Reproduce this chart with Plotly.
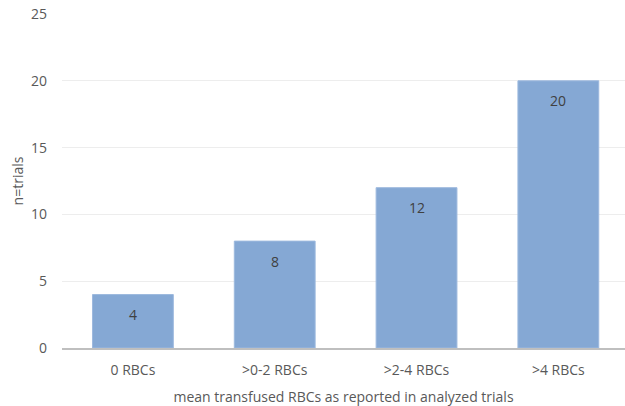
import plotly.graph_objects as go

categories = ["0 RBCs", ">0-2 RBCs", ">2-4 RBCs", ">4 RBCs"]
values = [4, 8, 12, 20]
y_ticks = [0, 5, 10, 15, 20, 25]

FONT = "Open Sans, Liberation Sans, sans-serif"

fig = go.Figure()
fig.add_trace(go.Bar(
    x=list(range(len(categories))),
    y=values,
    width=0.57,
    marker=dict(color="#85A8D4", line=dict(color="#9DB9DE", width=1)),
    hoverinfo="skip",
))

for i, v in enumerate(values):
    fig.add_annotation(
        x=i, y=v, xref="x", yref="y",
        text=str(v), showarrow=False,
        yanchor="middle", yshift=-20,
        font=dict(family=FONT, size=14, color="#404040"),
    )

fig.update_layout(
    width=625, height=406,
    margin=dict(l=62, r=0, t=14, b=58),
    paper_bgcolor="white", plot_bgcolor="white",
    showlegend=False,
    font=dict(family=FONT, size=14, color="#595959"),
    xaxis=dict(
        range=[-0.5, 3.47],
        tickmode="array",
        tickvals=list(range(len(categories))),
        ticktext=categories,
        showgrid=False,
        zeroline=False,
        showline=True, linecolor="#BFBFBF", linewidth=2,
        ticks="",
        ticklabelstandoff=8,
        tickfont=dict(size=14, color="#595959"),
        title=dict(text="mean transfused RBCs as reported in analyzed trials",
                   font=dict(size=14, color="#595959"), standoff=14),
        fixedrange=True,
    ),
    yaxis=dict(
        range=[0, 25],
        tickmode="array",
        tickvals=y_ticks,
        ticktext=[str(t) for t in y_ticks],
        showgrid=True, gridcolor="#EDEDED", gridwidth=1,
        zeroline=False,
        showline=False,
        ticks="",
        ticklabelstandoff=14,
        tickfont=dict(size=14, color="#595959"),
        title=dict(text="n=trials", font=dict(size=14, color="#595959"), standoff=4),
        fixedrange=True,
    ),
)

fig.write_html("out.html")
